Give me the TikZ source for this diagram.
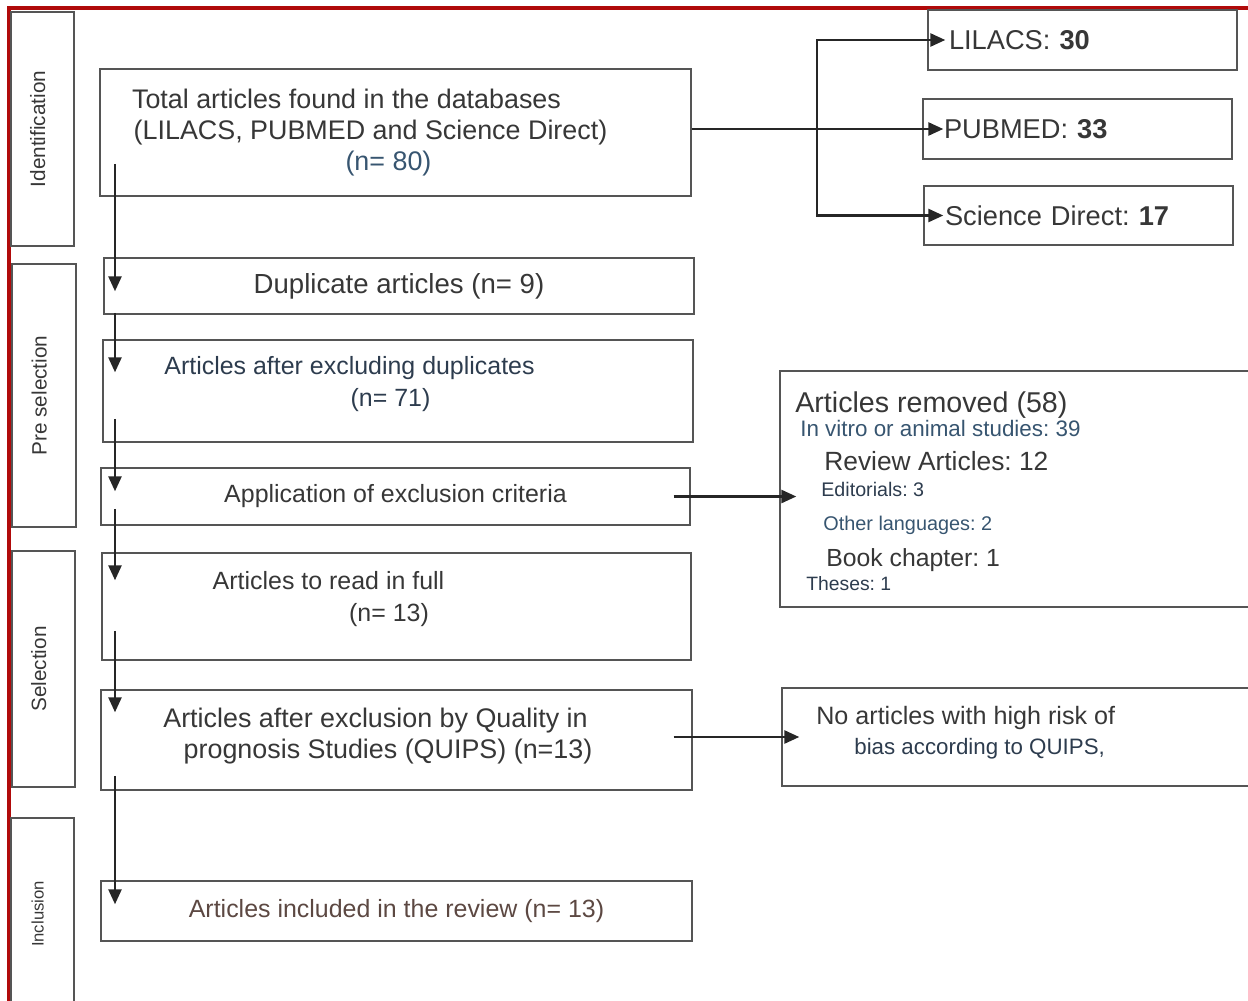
\documentclass[tikz,border=0pt]{standalone}
\usepackage{fontspec}
\setmainfont{Liberation Sans}
\usetikzlibrary{arrows.meta, calc}
\frenchspacing

\definecolor{frameRed}{RGB}{176,10,10}
\definecolor{boxGray}{RGB}{85,85,85}
\definecolor{txtGray}{RGB}{55,55,55}
\definecolor{txtSlate}{RGB}{45,60,78}
\definecolor{txtBlue}{RGB}{55,85,112}
\definecolor{txtBrown}{RGB}{92,72,66}

\begin{document}
\begin{tikzpicture}[
		x=0.02cm, y=-0.02cm,
		>={Triangle[length=8.5pt,width=7.5pt]},
		% Box Styles
		stage_box/.style={rectangle, draw=boxGray, line width=0.9pt, rotate=90, text depth=0.2cm, text=txtGray, font=\fontsize{11.8}{14}\selectfont},
		flow_box/.style={rectangle, draw=boxGray, line width=0.9pt, align=center, text=txtGray, inner sep=0pt},
		db_box/.style={rectangle, draw=boxGray, line width=0.9pt, align=left, text=txtGray, text width=5.34cm, inner xsep=0.42cm, minimum height=1.2cm, font=\fontsize{15.5}{18}\selectfont},
		out_box/.style={rectangle, draw=boxGray, line width=0.9pt},
		line_txt/.style={anchor=base west, inner sep=0pt, text=txtGray},
		% Edge Styles
		flow_edge/.style={->, draw=black!85, line width=1.2pt}
		]
		
		\useasboundingbox (0,0) rectangle (1248,1001);
		\clip (0,0) rectangle (1248,1001);
		
		% --- FRAME ---
		\draw[frameRed, line width=2pt] (9,1001) -- (9,8) -- (1248,8);
		
		% --- STAGES ---
		\node[stage_box, minimum width=4.68cm, minimum height=1.26cm] (ident) at (42.5,129) {Identification};
		\node[stage_box, minimum width=5.26cm, minimum height=1.28cm] (presel) at (44,395.5) {Pre selection};
		\node[stage_box, minimum width=4.72cm, minimum height=1.26cm] (sel) at (43.5,669) {Selection};
		\node[stage_box, minimum width=3.84cm, minimum height=1.26cm, font=\fontsize{9.5}{11}\selectfont] (incl) at (42.5,914) {Inclusion};
		
		% --- MAIN FLOW ---
		\node[flow_box, minimum width=11.82cm, minimum height=2.54cm, font=\fontsize{15.3}{17.8}\selectfont] (total) at (395.5,132.5) {\mbox{Total articles found in the databases\hspace*{1.96cm}}\\\mbox{(LILACS, PUBMED and Science Direct)\hspace*{1cm}}\\\mbox{\textcolor{txtBlue}{(n= 80)}\hspace*{0.28cm}}};
		\node[flow_box, minimum width=11.8cm, minimum height=1.12cm, font=\fontsize{15.7}{18}\selectfont] (dup) at (399,286) {Duplicate articles (n= 9)};
		\node[flow_box, minimum width=11.8cm, minimum height=2.04cm, text depth=0.38cm, font=\fontsize{14.2}{18.1}\selectfont, text=txtSlate] (after_dup) at (398,391) {\mbox{Articles after excluding duplicates\hspace*{1.94cm}}\\\mbox{(n= 71)\hspace*{0.3cm}}};
		\node[flow_box, minimum width=11.78cm, minimum height=1.14cm, font=\fontsize{14.2}{17}\selectfont] (applic) at (395.5,496.5) {Application of exclusion criteria};
		\node[flow_box, minimum width=11.78cm, minimum height=2.14cm, text depth=0.4cm, font=\fontsize{14.2}{18.1}\selectfont] (read_full) at (396.5,606.5) {\mbox{Articles to read in full\hspace*{2.72cm}}\\\mbox{(n= 13)\hspace*{0.3cm}}};
		\node[flow_box, minimum width=11.82cm, minimum height=2.0cm, text depth=0.27cm, font=\fontsize{15.3}{18.1}\selectfont] (quips) at (396.5,740) {\mbox{Articles after exclusion by Quality in\hspace*{0.84cm}}\\\mbox{prognosis Studies (QUIPS) (n=13)\hspace*{0.34cm}}};
		\node[flow_box, minimum width=11.82cm, minimum height=1.2cm, font=\fontsize{14.2}{17}\selectfont, text=txtBrown] (included) at (396.5,911) {Articles included in the review (n= 13)};
		
		% --- DATABASES ---
		\node[db_box] (lilacs) at (1082.5,40) {LILACS: \textbf{30}};
		\node[db_box] (pubmed) at (1077.5,129) {PUBMED: \textbf{33}};
		\node[db_box, minimum height=1.18cm] (scidir) at (1078.5,215.5) {Science Direct: \textbf{17}};
		
		% --- REMOVED / QUIPS OUTCOME ---
		\node[out_box, minimum width=9.6cm, minimum height=4.72cm] (removed) at (1020,489) {};
		\node[line_txt, font=\fontsize{16.3}{19}\selectfont] (rm_title) at (795,412) {Articles removed (58)};
		\node[line_txt, font=\fontsize{12.75}{15}\selectfont, text=txtBlue] (rm_vitro) at (800,436) {In vitro or animal studies: 39};
		\node[line_txt, font=\fontsize{15}{18}\selectfont] (rm_review) at (824,470) {Review Articles: 12};
		\node[line_txt, font=\fontsize{11.2}{13}\selectfont, text=txtSlate] (rm_edit) at (821,496) {Editorials: 3};
		\node[line_txt, font=\fontsize{11.3}{13}\selectfont, text=txtBlue] (rm_lang) at (823,530) {Other languages: 2};
		\node[line_txt, font=\fontsize{14.1}{17}\selectfont] (rm_book) at (826,566) {Book chapter: 1};
		\node[line_txt, font=\fontsize{11}{13}\selectfont, text=txtSlate] (rm_theses) at (806,590) {Theses: 1};
		
		\node[out_box, minimum width=9.56cm, minimum height=1.96cm] (no_art) at (1021,737) {};
		\node[line_txt, font=\fontsize{14.3}{17}\selectfont] (na_line1) at (816,724) {No articles with high risk of};
		\node[line_txt, font=\fontsize{12.7}{15}\selectfont, text=txtSlate] (na_line2) at (854,754) {bias according to QUIPS,};
		
		% ================= CONNECTORS =================
		\coordinate (spine) at (115,0);
		\coordinate (split) at (817,129);
		
		% Total -> databases
		\draw[flow_edge] (total.east |- pubmed.west) -- ($(pubmed.west)+(21,0)$);
		\draw[flow_edge] (split) |- ($(lilacs.west)+(18,0)$);
		\draw[flow_edge] (split) |- ($(scidir.west)+(20,0)$);
		
		% Main flow downwards
		\draw[flow_edge] ($(spine |- total.south)+(0,-33)$) -- ($(spine |- dup.north)+(0,34)$);
		\draw[flow_edge] ($(spine |- dup.south)+(0,-2)$) -- ($(spine |- after_dup.north)+(0,33)$);
		\draw[flow_edge] ($(spine |- after_dup.south)+(0,-24)$) -- ($(spine |- applic.north)+(0,24)$);
		\draw[flow_edge] ($(spine |- applic.south)+(0,-17)$) -- ($(spine |- read_full.north)+(0,28)$);
		\draw[flow_edge] ($(spine |- read_full.south)+(0,-30)$) -- ($(spine |- quips.north)+(0,23)$);
		\draw[flow_edge] ($(spine |- quips.south)+(0,-15)$) -- ($(spine |- included.north)+(0,24)$);
		
		% Side exits
		\draw[flow_edge] ($(applic.east)+(-17,0)$) -- ($(removed.west |- applic.east)+(17,0)$);
		\draw[flow_edge] ($(quips.east |- no_art.west)+(-19,0)$) -- ($(no_art.west)+(18,0)$);
		
	\end{tikzpicture}
\end{document}
